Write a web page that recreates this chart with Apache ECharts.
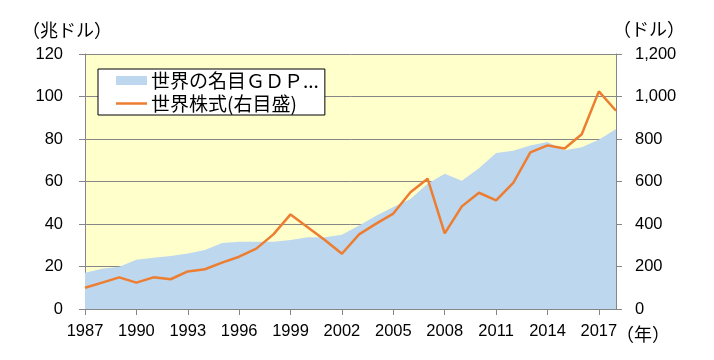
<!DOCTYPE html>
<html><head><meta charset="utf-8">
<script src="https://cdn.jsdelivr.net/npm/echarts@6/dist/echarts.min.js"></script>
<style>html,body{margin:0;padding:0;background:#fff}#c{width:714px;height:360px}</style>
</head><body><div id="c"></div>
<script>
var years = ['1987','1988','1989','1990','1991','1992','1993','1994','1995','1996','1997','1998','1999','2000','2001','2002','2003','2004','2005','2006','2007','2008','2009','2010','2011','2012','2013','2014','2015','2016','2017','2018'];
var gdp = [17.1,19.0,19.9,23.2,24.1,25.0,26.1,27.8,31.1,31.6,31.6,31.6,32.5,33.8,33.8,35.0,39.3,43.9,48.0,51.8,59.0,63.7,60.4,66.2,73.4,74.5,76.9,78.6,74.7,76.1,79.7,84.7];
var stock = [100,124,149,124,149,140,177,187,218,246,284,351,445,385,325,260,351,402,449,549,613,356,483,547,511,593,737,770,755,822,1024,933];
var gdpName = '世界の名目ＧＤＰ...';
var stockName = '世界株式(右目盛)';
var leftUnit = '（兆ドル）', rightUnit = '（ドル）', xUnit = '（年）';

var latin = "'Liberation Sans', Arial, sans-serif";
var cjk = "'Noto Sans CJK JP', sans-serif";
var chart = echarts.init(document.getElementById('c'), null, {renderer:'canvas'});
chart.setOption({
  animation: false,
  grid: {left: 85, right: 98, top: 54, bottom: 51, show: true, backgroundColor: '#FFFFCC', borderWidth: 0},
  legend: {
    orient: 'vertical', left: 98, top: 69,
    padding: [2, 6, 2, 18], itemGap: 4, itemWidth: 31, itemHeight: 9,
    symbolKeepAspect: true,
    backgroundColor: '#fff', borderColor: '#000', borderWidth: 1,
    textStyle: {fontFamily: cjk, fontSize: 19, lineHeight: 18, color: '#000', padding: [0,0,0,-1]},
    data: [{name: gdpName, icon: 'rect'}, {name: stockName, icon: 'path://M0,0H124V10H0Z'}]
  },
  xAxis: {
    type: 'category', data: years, boundaryGap: false,
    axisLine: {lineStyle: {color: '#868686', width: 1}},
    axisTick: {show: true, interval: 2, length: 6, lineStyle: {color: '#868686'}},
    axisLabel: {interval: 2, margin: 14, color: '#000', fontFamily: latin, fontSize: 16.5},
    splitLine: {show: false}
  },
  yAxis: [{
    type: 'value', min: 0, max: 120, interval: 20, position: 'left',
    axisLine: {show: true, lineStyle: {color: '#868686'}},
    axisTick: {show: true, length: 6, lineStyle: {color: '#868686'}},
    axisLabel: {margin: 22, color: '#000', fontFamily: latin, fontSize: 16.5},
    splitLine: {show: true, lineStyle: {color: '#868686', width: 1}}
  }, {
    type: 'value', min: 0, max: 1200, interval: 200, position: 'right',
    axisLine: {show: true, lineStyle: {color: '#868686'}},
    axisTick: {show: true, length: 6, lineStyle: {color: '#868686'}},
    axisLabel: {margin: 19, color: '#000', fontFamily: latin, fontSize: 16.5,
      formatter: function (v) { return v.toLocaleString('en-US'); }},
    splitLine: {show: false}
  }],
  series: [{
    name: gdpName, type: 'line', yAxisIndex: 0, data: gdp,
    symbol: 'none', color: '#BDD7EE',
    lineStyle: {width: 0, color: '#BDD7EE'},
    areaStyle: {color: '#BDD7EE', opacity: 1},
    z: 1
  }, {
    name: stockName, type: 'line', yAxisIndex: 1, data: stock,
    symbol: 'none', color: '#ED7D31',
    lineStyle: {width: 2.5, color: '#ED7D31'},
    z: 3
  }],
  graphic: [
    {type: 'text', left: 22, top: 21, style: {text: leftUnit, font: '18px ' + cjk, fill: '#000'}},
    {type: 'text', left: 613, top: 20, style: {text: rightUnit, font: '18px ' + cjk, fill: '#000'}},
    {type: 'text', left: 616, top: 325, style: {text: xUnit, font: '18px ' + cjk, fill: '#000'}}
  ]
});
</script></body></html>
